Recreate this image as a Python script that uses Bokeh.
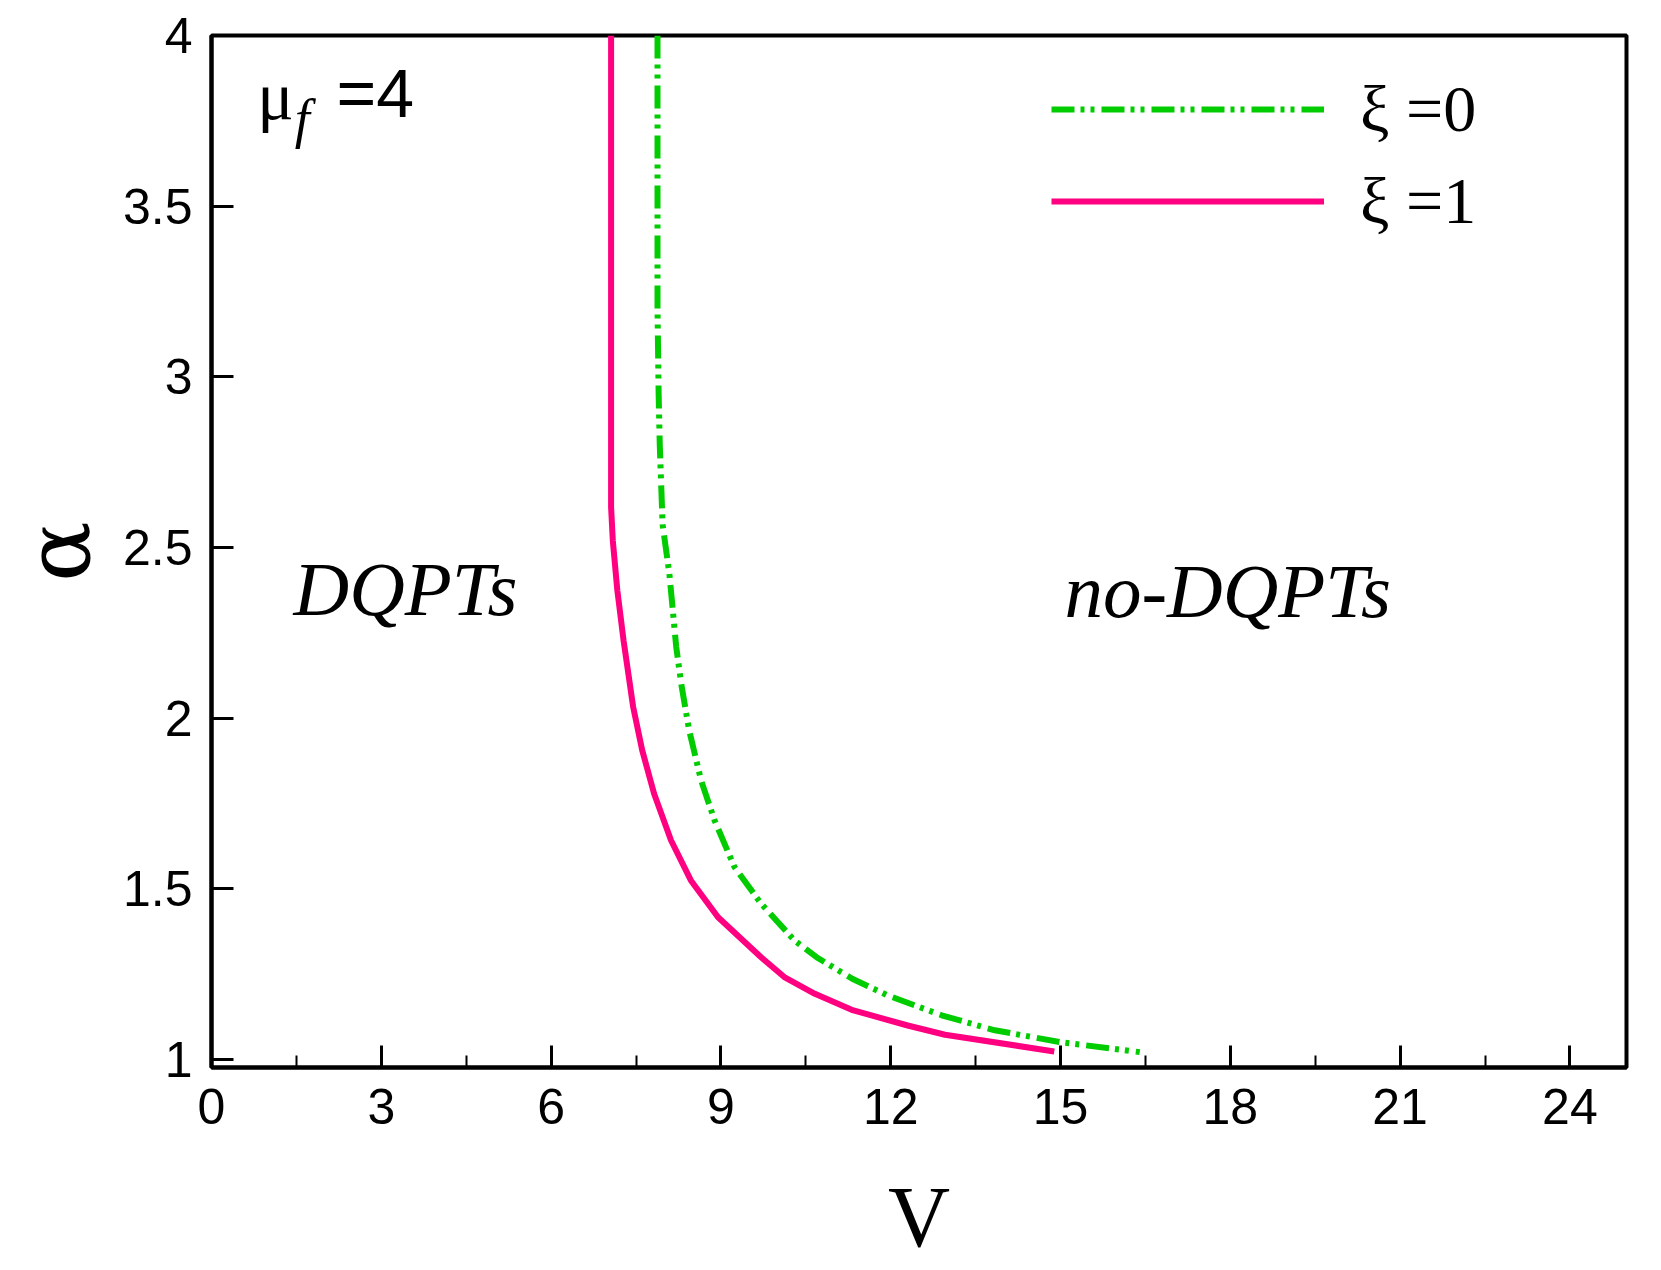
from bokeh.plotting import figure
from bokeh.models import Range1d, FixedTicker, Legend, LegendItem, Label
from bokeh.embed import file_html
from bokeh.resources import INLINE

# ---- data ----
V_xi0 = [7.88, 7.88, 7.90, 7.92, 7.97, 8.09, 8.21, 8.30, 8.44, 8.65, 8.89,
         9.24, 9.71, 10.30, 10.69, 11.32, 11.95, 12.90, 13.84, 15.01, 16.40]
A_xi0 = [4.0, 3.2, 2.95, 2.80, 2.567, 2.423, 2.21, 2.10, 1.964, 1.818, 1.70,
         1.564, 1.457, 1.349, 1.30, 1.237, 1.188, 1.13, 1.086, 1.051, 1.022]

V_xi1 = [7.06, 7.06, 7.09, 7.17, 7.28, 7.45, 7.61, 7.82, 8.12, 8.47, 8.95,
         9.71, 10.12, 10.66, 11.31, 12.30, 12.96, 14.89]
A_xi1 = [4.0, 2.618, 2.521, 2.375, 2.228, 2.033, 1.906, 1.779, 1.642, 1.525, 1.417,
         1.30, 1.242, 1.193, 1.146, 1.10, 1.073, 1.024]

x_ticks = [0, 3, 6, 9, 12, 15, 18, 21, 24]
x_minor = [1.5, 4.5, 7.5, 10.5, 13.5, 16.5, 19.5, 22.5]
y_ticks = [1, 1.5, 2, 2.5, 3, 3.5, 4]

labels = ["ξ =0", "ξ =1"]
colors = ["#00CC00", "#FF0080"]

p = figure(width=1656, height=1268, output_backend="svg", toolbar_location=None,
           x_range=Range1d(0, 25), y_range=Range1d(0.977, 4.0),
           min_border_left=211, min_border_right=30, min_border_top=35,
           min_border_bottom=201)
p.grid.visible = False
p.background_fill_color = "white"
p.border_fill_color = "white"
p.outline_line_color = "black"
p.outline_line_width = 4

r0 = p.line(V_xi0, A_xi0, line_color=colors[0], line_width=6, line_dash="23 6 4 6 4 7")
r1 = p.line(V_xi1, A_xi1, line_color=colors[1], line_width=6)

for ax in (p.xaxis[0], p.yaxis[0]):
    ax.axis_line_width = 4
    ax.major_tick_line_width = 3
    ax.major_tick_in = 22
    ax.major_tick_out = 0
    ax.major_label_text_font = "Liberation Sans"
    ax.major_label_text_font_size = "50px"
    ax.major_label_text_color = "black"
    ax.axis_label_text_color = "black"
    ax.axis_label_text_font_style = "normal"

p.xaxis.ticker = FixedTicker(ticks=x_ticks, minor_ticks=x_minor)
p.xaxis.minor_tick_in = 12
p.xaxis.minor_tick_out = 0
p.xaxis.minor_tick_line_width = 2
p.xaxis.major_label_standoff = 21
p.xaxis.axis_label = "V"
p.xaxis.axis_label_text_font = "Liberation Serif"
p.xaxis.axis_label_text_font_size = "86px"
p.xaxis.axis_label_standoff = 42

p.yaxis.ticker = FixedTicker(ticks=y_ticks)
p.yaxis.minor_tick_line_color = None
p.yaxis.major_label_standoff = 19
p.yaxis.axis_label = "α"
p.yaxis.axis_label_text_font = "DejaVu Serif"
p.yaxis.axis_label_text_font_size = "90px"
p.yaxis.axis_label_standoff = 10

legend = Legend(items=[LegendItem(label=labels[0], renderers=[r0]),
                       LegendItem(label=labels[1], renderers=[r1])],
                location=(840, 828), orientation="vertical",
                glyph_width=273, glyph_height=72, label_height=72,
                label_standoff=36, spacing=16, padding=0, margin=0,
                label_text_font="Liberation Serif", label_text_font_size="66px",
                label_text_color="black",
                border_line_alpha=0, background_fill_alpha=0)
p.add_layout(legend)

def lab(txt, x, y, font, size, style="normal"):
    p.add_layout(Label(x=x, y=y, text=txt, text_font=font, text_font_size=size,
                       text_font_style=style, text_baseline="alphabetic",
                       text_color="black"))

# annotations
lab("DQPTs", 1.45, 2.378, "Liberation Serif", "77px", "italic")
lab("no-DQPTs", 15.07, 2.372, "Liberation Serif", "77px", "italic")
lab("μ", 0.81, 3.822, "Liberation Serif", "68px")
lab("f", 1.47, 3.755, "Liberation Serif", "54px", "italic")
lab("=4", 2.21, 3.832, "Liberation Sans", "68px")

open("out.html", "w").write(file_html(p, INLINE))
